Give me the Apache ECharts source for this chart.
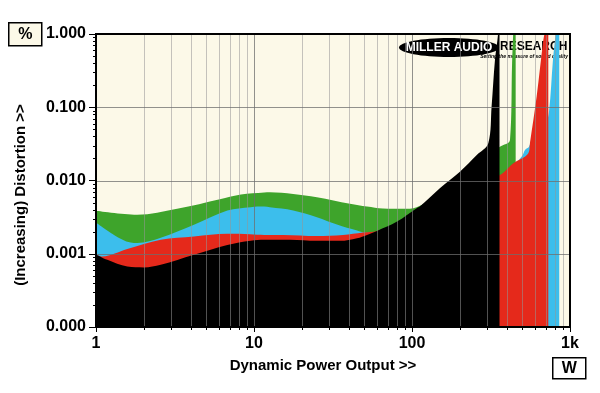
<!DOCTYPE html>
<html>
<head>
<meta charset="utf-8">
<script src="https://cdn.jsdelivr.net/npm/echarts@6/dist/echarts.min.js"></script>
<style>html,body{margin:0;padding:0;background:#fff;}#c{width:600px;height:393px;}</style>
</head>
<body>
<div id="c"></div>
<script>
// ---- data (power in W, distortion in %) ----
const greenW   = [1, 1.82, 3.26, 6.18, 8.27, 11.6, 12.6, 17.7, 25, 40.5, 51.9, 65.5, 87.7, 107, 150, 201, 257, 304, 352, 360, 417, 430, 438, 453];
const greenPct = [0.00385, 0.0034, 0.0041, 0.0056, 0.00643, 0.00684, 0.0069, 0.00656, 0.0059, 0.0048, 0.0044, 0.00414, 0.0041, 0.00432, 0.0065, 0.011, 0.017, 0.024, 0.028, 0.029, 0.0358, 0.40, 1.13, 5];

const blueW   = [1, 1.30, 1.657, 1.82, 2.57, 4.17, 6.78, 9.53, 11.6, 12.6, 17.7, 25, 33.5, 44.9, 50.4, 80, 150, 250, 360, 438, 500, 519, 550, 580, 700, 736, 780, 815, 855];
const bluePct = [0.00267, 0.00181, 0.00142, 0.0014, 0.00165, 0.00248, 0.00388, 0.00432, 0.0044, 0.0043, 0.0039, 0.00316, 0.0025, 0.00207, 0.00195, 0.0022, 0.005, 0.012, 0.011, 0.016, 0.022, 0.0261, 0.0288, 0.04, 0.06, 0.086, 0.44, 1.13, 5];

const redW   = [1, 1.096, 1.578, 2.57, 4.17, 6.78, 9.43, 11.6, 15.3, 25, 36.6, 49, 60, 100, 200, 300, 350, 360, 438, 545, 558, 615, 678, 695, 729];
const redPct = [0.00098, 0.00092, 0.00116, 0.00155, 0.00172, 0.00187, 0.00185, 0.00181, 0.00181, 0.00175, 0.00181, 0.00195, 0.00205, 0.003, 0.009, 0.0115, 0.0118, 0.0119, 0.0172, 0.0236, 0.0326, 0.14, 0.83, 1.13, 5];

const blackW   = [1, 1.179, 1.578, 2.01, 2.57, 4.17, 6.78, 9.53, 11.6, 16.9, 25, 35, 44.9, 51.9, 60, 80.4, 107, 112, 150, 201, 257, 304, 319, 335, 352, 358];
const blackPct = [0.00098, 0.000826, 0.000668, 0.00065, 0.000706, 0.000966, 0.00132, 0.00151, 0.00155, 0.00155, 0.0015, 0.0015, 0.00163, 0.00181, 0.00205, 0.00275, 0.00419, 0.0044, 0.00785, 0.0132, 0.0223, 0.0323, 0.102, 0.44, 1.13, 5];

const xTickValues = [1, 10, 100, 1000];
const xTickLabels = ['1', '10', '100', '1k'];
const yTickValues = [0.0001, 0.001, 0.01, 0.1, 1];
const yTickLabels = ['0.000', '0.001', '0.010', '0.100', '1.000'];

// ---- layout / style ----
const G = {left: 96, top: 34, width: 474, height: 293};
const xMin = 1, xMax = 1000, yMin = 0.0001, yMax = 1;

function pairs(xs, ys) { return xs.map((x, i) => [x, ys[i]]); }
const xMinor = [], yMinor = [];
for (let d = 1; d < 1000; d *= 10) for (let k = 2; k <= 9; k++) xMinor.push([k * d, 0.001]);
for (let d = 0.0001; d < 0.99; d *= 10) for (let k = 2; k <= 9; k++) yMinor.push([1, k * d]);
const xMajorInner = [[10, 0.001], [100, 0.001]];
const yMajorInner = [[1, 0.001], [1, 0.01], [1, 0.1]];

function areaSeries(name, data, color) {
  return {
    name, type: 'line', data, showSymbol: false, symbol: 'none',
    smooth: 0.35,
    lineStyle: {width: 0}, areaStyle: {color, opacity: 1, origin: 'start'},
    clip: true, z: 2, silent: true
  };
}

function vLines(stroke, tickLen) {
  return function (params, api) {
    const x = api.value(0);
    const a = api.coord([x, yMax]), b = api.coord([x, yMin]);
    const px = Math.round(a[0]) + 0.5;
    return {type: 'group', children: [
      {type: 'line', shape: {x1: px, y1: a[1], x2: px, y2: b[1]}, style: {stroke, lineWidth: 1}},
      {type: 'line', shape: {x1: px, y1: b[1], x2: px, y2: b[1] + tickLen}, style: {stroke: '#000', lineWidth: 1}}
    ]};
  };
}
function hLines(stroke, tickLen, full) {
  return function (params, api) {
    const y = api.value(1);
    const a = api.coord([xMin, y]), b = api.coord([xMax, y]);
    const py = Math.round(a[1]) + 0.5;
    const ch = [{type: 'line', shape: {x1: a[0] - tickLen, y1: py, x2: a[0] - 1, y2: py}, style: {stroke: '#000', lineWidth: 1}}];
    if (full) ch.push({type: 'line', shape: {x1: a[0], y1: py, x2: b[0], y2: py}, style: {stroke, lineWidth: 1}});
    return {type: 'group', children: ch};
  };
}

const chart = echarts.init(document.getElementById('c'), null, {renderer: 'canvas'});
const font = '"Liberation Sans", Arial, sans-serif';
chart.setOption({
  animation: false,
  backgroundColor: '#ffffff',
  grid: {left: G.left, top: G.top, width: G.width, height: G.height, show: true,
         backgroundColor: '#fcf9e8', borderColor: '#000', borderWidth: 0},
  xAxis: {
    type: 'log', logBase: 10, min: xMin, max: xMax,
    axisLine: {show: false},
    axisTick: {show: true, length: 5, lineStyle: {color: '#000'}},
    axisLabel: {fontFamily: font, fontWeight: 'bold', fontSize: 16, color: '#000', margin: 9,
      formatter: v => { const i = xTickValues.findIndex(t => Math.abs(Math.log10(t) - Math.log10(v)) < 1e-6); return i >= 0 ? xTickLabels[i] : ''; }},
    splitLine: {show: false}
  },
  yAxis: {
    type: 'log', logBase: 10, min: yMin, max: yMax,
    axisLine: {show: false},
    axisTick: {show: true, length: 7, lineStyle: {color: '#000'}},
    axisLabel: {fontFamily: font, fontWeight: 'bold', fontSize: 16, color: '#000', margin: 10,
      formatter: v => { const i = yTickValues.findIndex(t => Math.abs(Math.log10(t) - Math.log10(v)) < 1e-6); return i >= 0 ? yTickLabels[i] : ''; }},
    splitLine: {show: false}
  },
  series: [
    areaSeries('green', pairs(greenW, greenPct), '#3ea42b'),
    areaSeries('blue', pairs(blueW, bluePct), '#3cbeec'),
    areaSeries('red', pairs(redW, redPct), '#e5291b'),
    areaSeries('black', pairs(blackW, blackPct), '#000000'),
    {type: 'custom', name: 'xminor', data: xMinor, renderItem: vLines('rgba(150,150,150,0.55)', 3), z: 5, silent: true, clip: false},
    {type: 'custom', name: 'xmajor', data: xMajorInner, renderItem: vLines('rgba(110,110,110,0.75)', 0), z: 5, silent: true, clip: false},
    {type: 'custom', name: 'yminor', data: yMinor, renderItem: hLines('', 3, false), z: 5, silent: true, clip: false},
    {type: 'custom', name: 'ymajor', data: yMajorInner, renderItem: hLines('rgba(110,110,110,0.75)', 0, true), z: 5, silent: true, clip: false}
  ],
  graphic: [
    {type: 'rect', shape: {x: G.left, y: G.top, width: G.width, height: G.height},
     style: {fill: null, stroke: '#000', lineWidth: 2}, z: 100, silent: true},
    {type: 'text', x: 323, y: 366, z: 100, style: {text: 'Dynamic Power Output >>', font: 'bold 15px ' + font, fill: '#000', align: 'center', verticalAlign: 'middle'}},
    {type: 'text', x: 21, y: 195, rotation: Math.PI / 2, z: 100, style: {text: '(Increasing) Distortion >>', font: 'bold 15px ' + font, fill: '#000', align: 'center', verticalAlign: 'middle'}},
    {type: 'group', left: 8, top: 22, z: 100, children: [
      {type: 'rect', shape: {x: 0, y: 0, width: 33, height: 23}, style: {fill: '#fcf9e8', stroke: '#000', lineWidth: 1.5}},
      {type: 'text', x: 16.5, y: 12, style: {text: '%', font: 'bold 16px ' + font, fill: '#000', align: 'center', verticalAlign: 'middle'}}
    ]},
    {type: 'group', left: 552, top: 357, z: 100, children: [
      {type: 'rect', shape: {x: 0, y: 0, width: 33, height: 21}, style: {fill: '#fff', stroke: '#000', lineWidth: 1.5}},
      {type: 'text', x: 16.5, y: 11, style: {text: 'W', font: 'bold 16px ' + font, fill: '#000', align: 'center', verticalAlign: 'middle'}}
    ]},
    {type: 'group', left: 399, top: 38, z: 100, children: [
      {type: 'ellipse', shape: {cx: 50, cy: 9.5, rx: 50, ry: 9.5}, style: {fill: '#000'}},
      {type: 'text', x: 50, y: 10, style: {text: 'MILLER AUDIO', font: 'bold 12px ' + font, fill: '#fff', align: 'center', verticalAlign: 'middle'}},
      {type: 'text', x: 101, y: 9, style: {text: 'RESEARCH', font: 'bold 12px ' + font, fill: '#000', align: 'left', verticalAlign: 'middle'}},
      {type: 'text', x: 169, y: 19, style: {text: 'Setting the measure of sound quality', font: 'italic bold 5px ' + font, fill: '#000', align: 'right', verticalAlign: 'middle'}}
    ]}
  ]
});
</script>
</body>
</html>
